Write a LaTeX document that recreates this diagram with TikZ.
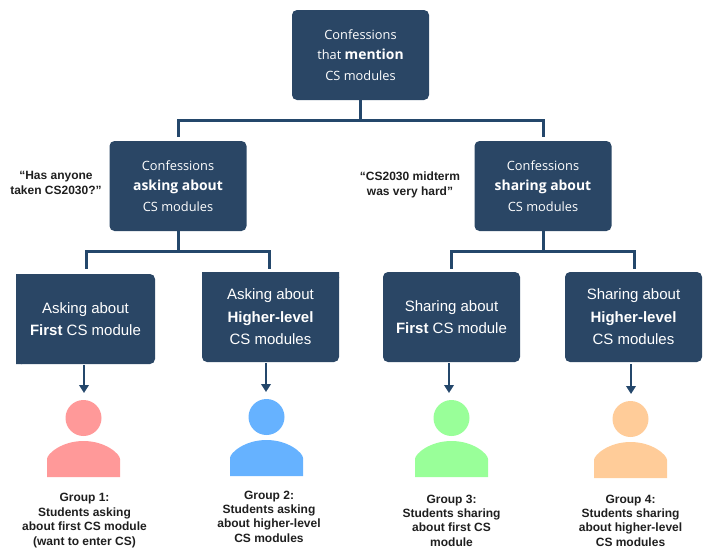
\documentclass[tikz,border=0pt]{standalone}
\usepackage{fontspec}
\setmainfont{Liberation Sans}
\newfontfamily\topfont{Open Sans}
\usetikzlibrary{arrows.meta}
\definecolor{boxblue}{HTML}{2A4665}
\definecolor{linkblue}{HTML}{24476B}
\definecolor{pinkp}{HTML}{FF9999}
\definecolor{bluep}{HTML}{66B2FF}
\definecolor{greenp}{HTML}{99FF99}
\definecolor{orangep}{HTML}{FFCC99}
\newcommand{\upbold}[1]{{\fontsize{13.9}{20.5}\selectfont\bfseries #1}}
\tikzset{
  x=1pt,y=-1pt,
  box/.style={fill=boxblue,text=white,rounded corners=5pt,minimum width=137pt,minimum height=90pt,align=center,inner sep=0pt,anchor=center},
  upperbox/.style={box,font=\topfont\fontsize{12.8}{20.5}\selectfont},
  lowerbox/.style={box,font=\fontsize{15}{22.6}\selectfont},
  conn/.style={draw=linkblue,line width=3pt},
  arrowlink/.style={draw=linkblue,line width=2.6pt,-{Triangle[length=8pt,width=9.5pt]}},
  captext/.style={align=center,inner sep=0pt,text=black!88,font=\fontsize{12}{14.4}\selectfont\bfseries},
}
\newcommand{\personshape}[4]{% name, x, y of head centre, colour
  \fill[#4] (#2,#3) circle[radius=18pt];
  \fill[#4] (#2-36.5,#3+59) -- (#2-36.5,#3+41)
    .. controls (#2-36.5,#3+36) and (#2-22,#3+23) .. (#2,#3+23)
    .. controls (#2+22,#3+23) and (#2+36.5,#3+36) .. (#2+36.5,#3+41)
    -- (#2+36.5,#3+59) -- cycle;
  \coordinate (#1) at (#2,#3-25);
}
\begin{document}
\begin{tikzpicture}
\useasboundingbox (0,0) rectangle (719,552);
% boxes
\node[upperbox] (top) at (360.5,55) {Confessions\\that \upbold{mention}\\CS modules};
\node[upperbox] (ask) at (178,186) {Confessions\\\upbold{asking about}\\CS modules};
\node[upperbox] (share) at (543,186) {Confessions\\\upbold{sharing about}\\CS modules};
\node[lowerbox,minimum width=139pt] (b1) at (85.5,319) {Asking about\\\textbf{First} CS module};
\node[lowerbox] (b2) at (270.5,317) {Asking about\\\textbf{Higher-level}\\CS modules};
\node[lowerbox] (b3) at (451.5,317) {Sharing about\\\textbf{First} CS module};
\node[lowerbox] (b4) at (633.5,317) {Sharing about\\\textbf{Higher-level}\\CS modules};
\fill[boxblue] (16,274) rectangle (22,280) (16,358) rectangle (22,364);
\fill[boxblue] (202,272) rectangle (208,278) (333,272) rectangle (339,278);
% connectors
\coordinate (j0) at (360.5,120);
\coordinate (j1) at (178,251);
\coordinate (j2) at (543,251);
\draw[conn] (top.south) -- (j0);
\draw[conn,shorten >=4pt] (j0) -| (ask.north);
\draw[conn,shorten >=4pt] (j0) -| (share.north);
\draw[conn] (ask.south) -- (j1);
\draw[conn] (share.south) -- (j2);
\coordinate (e1) at (86,269);
\coordinate (e2) at (269,269);
\coordinate (e3) at (451,269);
\coordinate (e4) at (634,269);
\draw[conn] (j1) -| (e1);
\draw[conn] (j1) -| (e2);
\draw[conn] (j2) -| (e3);
\draw[conn] (j2) -| (e4);
% people
\personshape{p1}{83.5}{418}{pinkp}
\personshape{p2}{266.5}{417}{bluep}
\personshape{p3}{451.5}{418}{greenp}
\personshape{p4}{630.5}{419}{orangep}
\coordinate (a1) at (84,365);
\coordinate (a2) at (266,363);
\coordinate (a3) at (449,363);
\coordinate (a4) at (631,364);
\draw[arrowlink] (a1) -- (a1 |- p1);
\draw[arrowlink] (a2) -- (a2 |- p2);
\draw[arrowlink] (a3) -- (a3 |- p3);
\draw[arrowlink] (a4) -- (a4 |- p4);
% captions
\node[captext] (c1) at (84.5,520.5) {Group 1:\\Students asking\\about first CS module\\(want to enter CS)};
\node[captext] (c2) at (269,516.5) {Group 2:\\Students asking\\about higher-level\\CS modules};
\node[captext] (c3) at (451.5,520.5) {Group 3:\\Students sharing\\about first CS\\module};
\node[captext] (c4) at (630.5,520.5) {Group 4:\\Students sharing\\about higher-level\\CS modules};
\node[captext] (q1) at (56,183) {“Has anyone\\taken CS2030?”};
\node[captext] (q2) at (410,185) {“CS2030 midterm\\was very hard”};
\end{tikzpicture}
\end{document}
